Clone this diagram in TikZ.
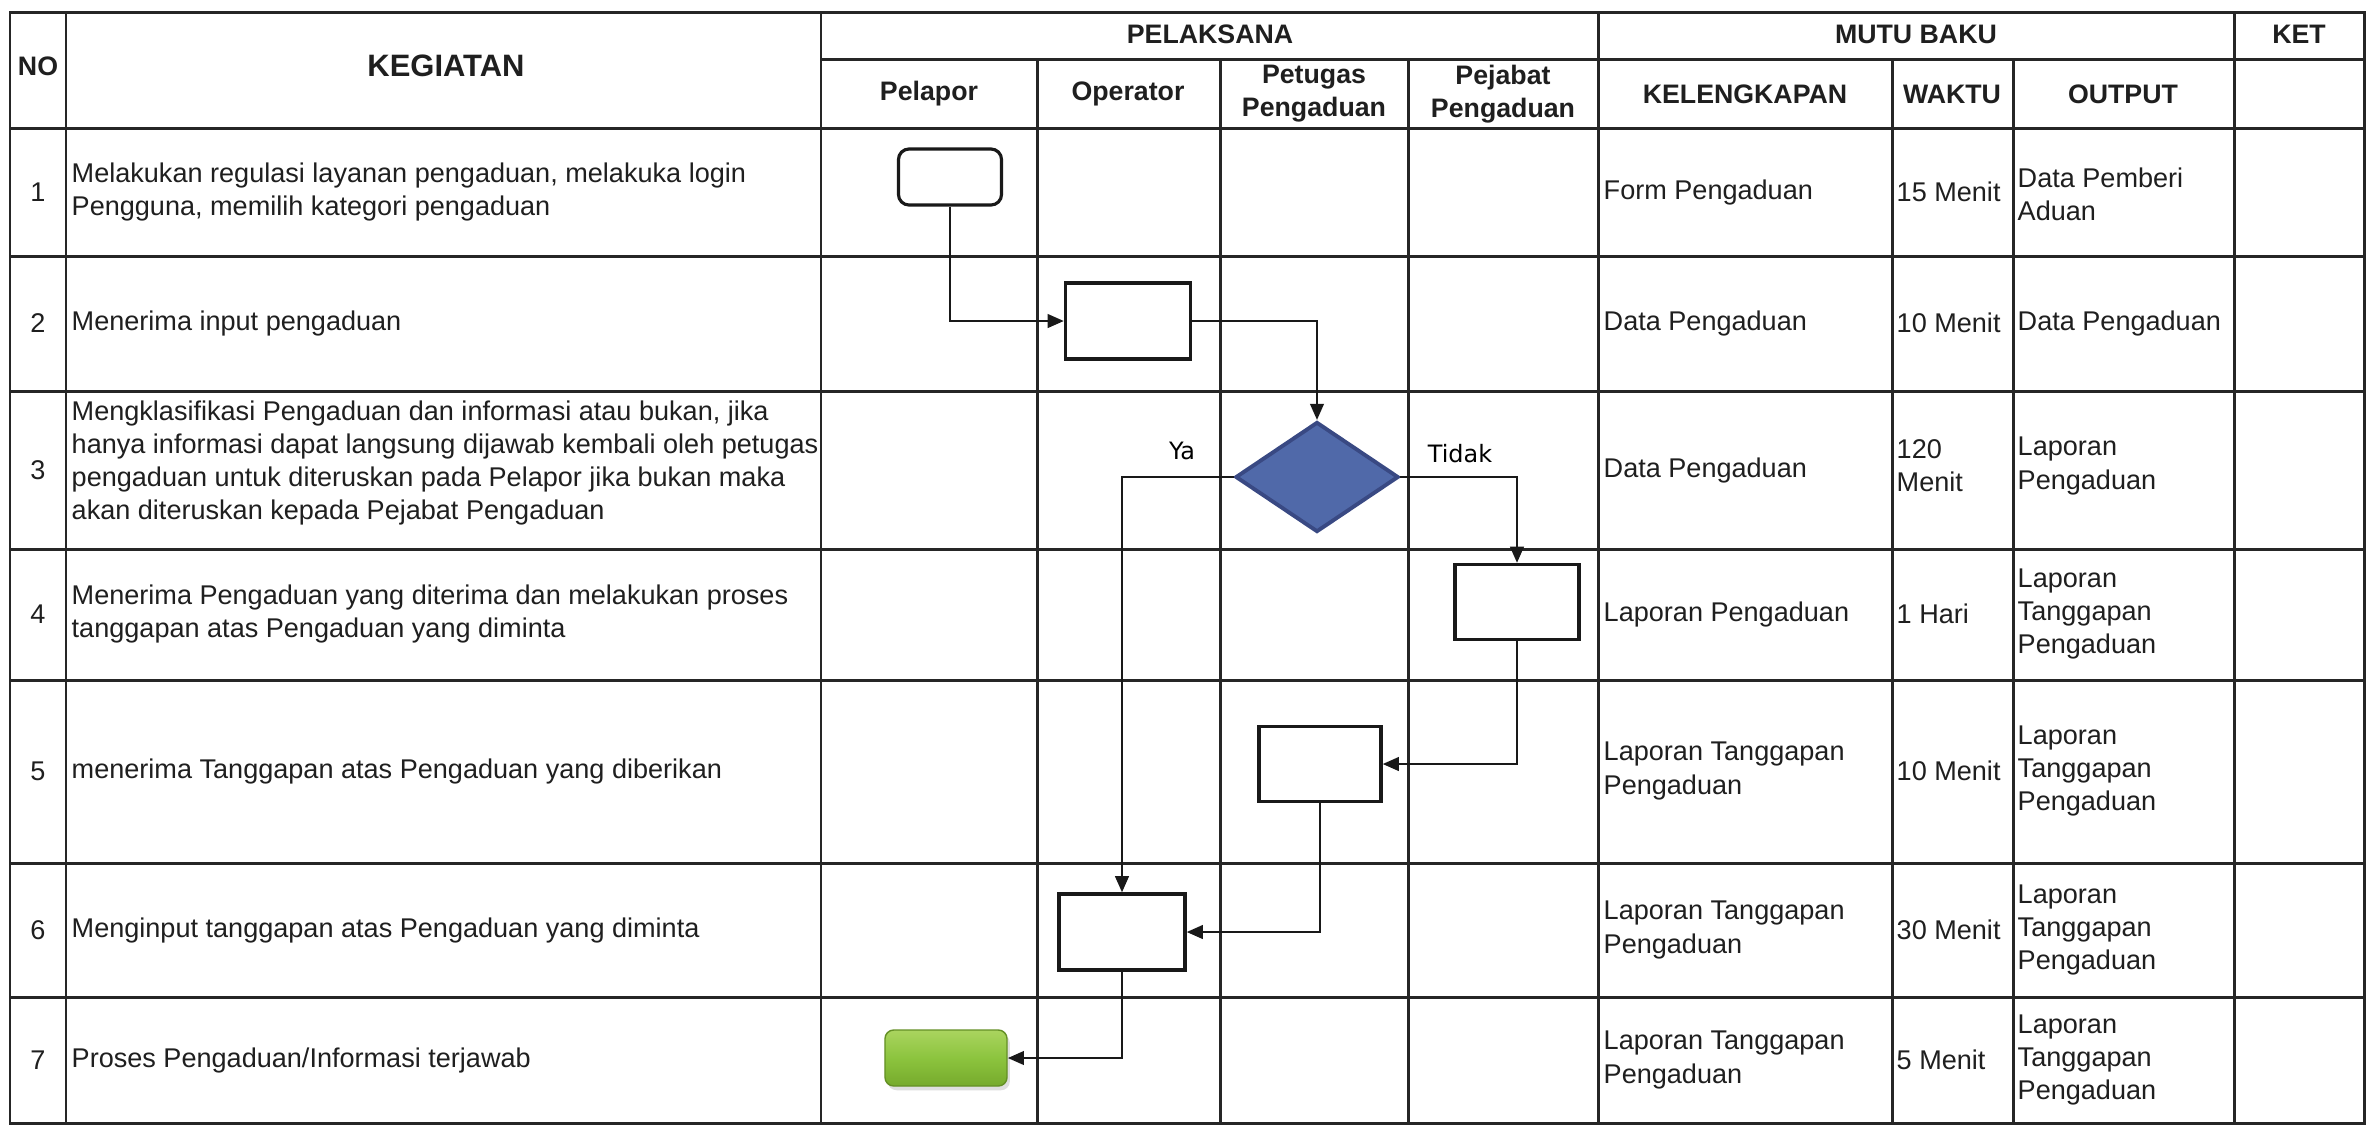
\documentclass[tikz,border=0pt]{standalone}
\usepackage{fontspec}
\setmainfont{Liberation Sans}
\newfontfamily\flowfont{DejaVu Sans}
\usetikzlibrary{arrows.meta,shapes.geometric,shadows}

\definecolor{gridline}{HTML}{262626}
\definecolor{decisionblue}{HTML}{5069A9}
\definecolor{decisionedge}{HTML}{394983}
\definecolor{endgreen}{HTML}{8CC43E}
\definecolor{endgreenlight}{HTML}{AAD45F}
\definecolor{endgreendark}{HTML}{76AA2C}

\tikzset{
	cell/.style={font=\fontsize{7.7}{9.4}\selectfont, text=black!88, inner sep=0pt, align=left, anchor=west},
	head/.style={font=\fontsize{7.6}{9.4}\selectfont\bfseries, text=black!88, inner sep=0pt, align=center},
	num/.style={font=\fontsize{7.7}{9.4}\selectfont, text=black!88, inner sep=0pt},
	procbox/.style={draw=black!90, line width=0.9pt, fill=white, inner sep=0pt},
	flow/.style={draw=black!90, line width=0.8pt, -{Triangle[length=4.6pt,width=3.8pt]}},
	branch/.style={font=\flowfont\fontsize{6.8}{8}\selectfont, inner sep=0pt}
}

\begin{document}
\begin{tikzpicture}[x=0.01cm, y=-0.01cm]
	\useasboundingbox (0,0) rectangle (2371,1126);
	\fill[white] (0,0) rectangle (2371,1126);

	% grid of the table
	\begin{scope}[draw=gridline, line width=0.85pt]
		\draw (10,12) rectangle (2364,1123);
		\foreach \x in {66,821,1598,2234}
			\draw (\x,12) -- (\x,1123);
		\foreach \x in {1037,1220,1408,1892,2013}
			\draw (\x,59) -- (\x,1123);
		\draw (821,59) -- (2364,59);
		\foreach \y in {128,256,391,549,680,863,997}
			\draw (10,\y) -- (2364,\y);
	\end{scope}

	% headings
	\node[head] (hno) at (38,66) {NO};
	\node[head, font=\fontsize{8.8}{10}\selectfont\bfseries] (hkeg) at (446,66) {KEGIATAN};
	\node[head] (hpel) at (1210,34) {PELAKSANA};
	\node[head] (hmutu) at (1916,34) {MUTU BAKU};
	\node[head] (hket) at (2299,34) {KET};
	\node[head] (hpelapor) at (929,94) {Pelapor};
	\node[head] (hoperator) at (1128,94) {Operator};
	\node[head] (hpetugas) at (1314,94) {Petugas\\Pengaduan};
	\node[head] (hpejabat) at (1503,94) {Pejabat\\Pengaduan};
	\node[head] (hkel) at (1745,94) {KELENGKAPAN};
	\node[head] (hwaktu) at (1952,94) {WAKTU};
	\node[head] (houtput) at (2123,94) {OUTPUT};

	% row numbers
	\foreach \n/\y in {1/192,2/323,3/470,4/614,5/771,6/930,7/1060}
		\node[num] (no\n) at (38,\y) {\n};

	% activities
	\node[cell] (keg1) at (71,192) {Melakukan regulasi layanan pengaduan, melakuka login\\Pengguna, memilih kategori pengaduan};
	\node[cell] (keg2) at (71,323) {Menerima input pengaduan};
	\node[cell] (keg3) at (71,463) {Mengklasifikasi Pengaduan dan informasi atau bukan, jika\\hanya informasi dapat langsung dijawab kembali oleh petugas\\pengaduan untuk diteruskan pada Pelapor jika bukan maka\\akan diteruskan kepada Pejabat Pengaduan};
	\node[cell] (keg4) at (71,614) {Menerima Pengaduan yang diterima dan melakukan proses\\tanggapan atas Pengaduan yang diminta};
	\node[cell] (keg5) at (71,771) {menerima Tanggapan atas Pengaduan yang diberikan};
	\node[cell] (keg6) at (71,930) {Menginput tanggapan atas Pengaduan yang diminta};
	\node[cell] (keg7) at (71,1060) {Proses Pengaduan/Informasi terjawab};

	% kelengkapan
	\node[cell] (kel1) at (1603,192) {Form Pengaduan};
	\node[cell] (kel2) at (1603,323) {Data Pengaduan};
	\node[cell] (kel3) at (1603,470) {Data Pengaduan};
	\node[cell] (kel4) at (1603,614) {Laporan Pengaduan};
	\node[cell] (kel5) at (1603,771) {Laporan Tanggapan\\Pengaduan};
	\node[cell] (kel6) at (1603,930) {Laporan Tanggapan\\Pengaduan};
	\node[cell] (kel7) at (1603,1060) {Laporan Tanggapan\\Pengaduan};

	% waktu
	\node[cell] (wkt1) at (1896,192) {15 Menit};
	\node[cell] (wkt2) at (1896,323) {10 Menit};
	\node[cell] (wkt3) at (1896,466) {120\\Menit};
	\node[cell] (wkt4) at (1896,614) {1 Hari};
	\node[cell] (wkt5) at (1896,771) {10 Menit};
	\node[cell] (wkt6) at (1896,930) {30 Menit};
	\node[cell] (wkt7) at (1896,1060) {5 Menit};

	% output
	\node[cell] (out1) at (2017,194) {Data Pemberi\\Aduan};
	\node[cell] (out2) at (2017,323) {Data Pengaduan};
	\node[cell] (out3) at (2017,466) {Laporan\\Pengaduan};
	\node[cell] (out4) at (2017,614) {Laporan\\Tanggapan\\Pengaduan};
	\node[cell] (out5) at (2017,771) {Laporan\\Tanggapan\\Pengaduan};
	\node[cell] (out6) at (2017,930) {Laporan\\Tanggapan\\Pengaduan};
	\node[cell] (out7) at (2017,1060) {Laporan\\Tanggapan\\Pengaduan};

	% flow
	\node[procbox, rounded corners=3pt, minimum width=1.03cm, minimum height=0.56cm] (start) at (950,177) {};
	\node[procbox, minimum width=1.25cm, minimum height=0.76cm] (terima) at (1128,321) {};
	\node[diamond, draw=decisionedge, line width=1.1pt, fill=decisionblue, inner sep=0pt,
		minimum width=1.63cm, minimum height=1.10cm] (cek) at (1317,477) {};
	\node[procbox, minimum width=1.24cm, minimum height=0.75cm] (pejabat) at (1517,602) {};
	\node[procbox, minimum width=1.22cm, minimum height=0.75cm] (petugas) at (1320,764) {};
	\node[procbox, minimum width=1.26cm, minimum height=0.76cm] (input) at (1122,932) {};
	\node[draw=endgreendark!85!black, line width=0.4pt, rounded corners=2.5pt,
		top color=endgreenlight, bottom color=endgreendark, middle color=endgreen,
		drop shadow={opacity=0.25, shadow xshift=0.8pt, shadow yshift=-1.2pt},
		minimum width=1.22cm, minimum height=0.56cm, inner sep=0pt] (selesai) at (946,1058) {};

	\draw[flow] (start.south) |- (terima.west);
	\draw[flow] (terima.east) -| (cek.north);
	\draw[flow] (cek.west) -| (input.north);
	\draw[flow] (cek.east) -| (pejabat.north);
	\draw[flow] (pejabat.south) |- (petugas.east);
	\draw[flow] (petugas.south) |- (input.east);
	\draw[flow] (input.south) |- (selesai.east);

	\node[branch] (ya) at (1182,451) {Ya};
	\node[branch] (tidak) at (1460,454) {Tidak};
\end{tikzpicture}
\end{document}
